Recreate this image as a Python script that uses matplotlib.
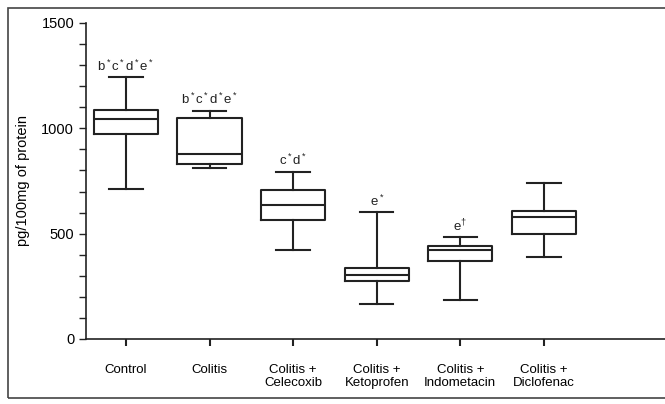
import matplotlib.pyplot as plt
from matplotlib.patches import Rectangle
from matplotlib import font_manager

names = {f.name for f in font_manager.fontManager.ttflist}
fam = 'Liberation Sans Narrow' if 'Liberation Sans Narrow' in names else 'Liberation Sans'
plt.rcParams['font.family'] = [fam, 'DejaVu Sans']
plt.rcParams['mathtext.fontset'] = 'custom'
plt.rcParams['mathtext.rm'] = fam
plt.rcParams['mathtext.it'] = fam

groups = ['Control', 'Colitis', 'Colitis +\nCelecoxib', 'Colitis +\nKetoprofen',
          'Colitis +\nIndometacin', 'Colitis +\nDiclofenac']
whislo = [710, 814, 423, 167, 183, 389]
q1 = [975, 833, 565, 274, 372, 498]
med = [1046, 876, 634, 304, 421, 577]
q3 = [1088, 1051, 707, 336, 440, 607]
whishi = [1245, 1084, 795, 603, 484, 740]
marks = [r'b$^*$c$^*$d$^*$e$^*$', r'b$^*$c$^*$d$^*$e$^*$', r'c$^*$d$^*$',
         r'e$^*$', r'e$^{\dagger}$', '']

stats = []
for i in range(len(groups)):
    stats.append({'whislo': whislo[i], 'q1': q1[i], 'med': med[i],
                  'q3': q3[i], 'whishi': whishi[i], 'fliers': []})

fig = plt.figure(figsize=(6.65, 4.04), dpi=100)
ax = fig.add_axes([86/665, 1-339/404, 1-86/665, (339-23)/404])

lw = 1.5
ax.bxp(stats, positions=range(len(groups)), widths=0.77, showfliers=False,
       boxprops=dict(color='#222222', linewidth=lw),
       medianprops=dict(color='#222222', linewidth=lw),
       whiskerprops=dict(color='#222222', linewidth=lw),
       capprops=dict(color='#222222', linewidth=lw),
       capwidths=0.4)

for i, m in enumerate(marks):
    if m:
        ax.text(i, whishi[i] + 15, m, ha='center', va='bottom', fontsize=9.5, color='#222222')

ax.set_xlim(-0.48, 6.45)
ax.set_ylim(0, 1500)
ax.set_yticks([0, 500, 1000, 1500])
ax.set_yticks(range(0, 1501, 100), minor=True)
ax.set_xticks(range(len(groups)))
ax.set_xticklabels(groups, fontsize=9.5, linespacing=1.1)
ax.tick_params(axis='y', labelsize=10.5, length=5, width=1, color='#222222')
ax.tick_params(axis='y', which='minor', length=5, width=1, color='#222222')
ax.tick_params(axis='x', length=5, width=1.5, pad=13, color='#222222')
for s in ['top', 'right']:
    ax.spines[s].set_visible(False)
for s in ['left', 'bottom']:
    ax.spines[s].set_linewidth(1.2)
    ax.spines[s].set_color('#222222')
ax.set_ylabel('pg/100mg of protein', fontsize=10.5, labelpad=8)

# outer frame
fig.patches.append(Rectangle((8/665, 1-398/404), 1.0, 390/404, transform=fig.transFigure,
                             fill=False, edgecolor='#444444', linewidth=1.2))

fig.savefig('out.png', dpi=100)
